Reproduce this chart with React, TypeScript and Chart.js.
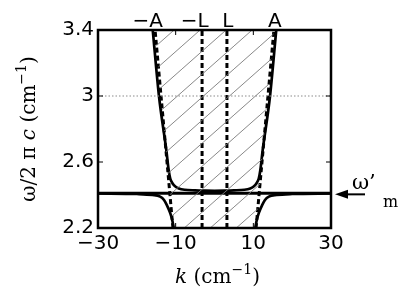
import React, { useEffect, useRef } from "react";
import { Chart, registerables } from "chart.js";
Chart.register(...registerables);

const X_TICKS = [-30, -10, 10, 30];
const Y_TICKS = [2.2, 2.6, 3, 3.4];
const X_MIN = -30;
const X_MAX = 30;
const Y_MIN = 2.2;
const Y_MAX = 3.4;
const OMEGA_M = 2.41;
const DOTTED_LEVEL = 3.0;

const UPPER_K = [-15.9, -14.3, -12.4, -11.8, -11.4, -10.8, -10.0, -9.2, -7.7, -5.0, -2.5, 0, 2.5, 5.0, 7.7, 9.2, 10.0, 10.8, 11.4, 11.8, 12.4, 14.3, 15.9];
const UPPER_W = [3.4, 3.0, 2.67, 2.55, 2.5, 2.47, 2.45, 2.44, 2.432, 2.428, 2.426, 2.425, 2.426, 2.428, 2.432, 2.44, 2.45, 2.47, 2.5, 2.55, 2.67, 3.0, 3.4];

const LOWER_LEFT_K = [-30, -20, -16, -14, -13, -12.3, -11.4, -10.9, -10.5];
const LOWER_LEFT_W = [2.409, 2.406, 2.4, 2.39, 2.37, 2.34, 2.29, 2.25, 2.2];
const LOWER_RIGHT_K = [10.5, 10.9, 11.4, 12.3, 13, 14, 16, 20, 30];
const LOWER_RIGHT_W = [2.2, 2.25, 2.29, 2.34, 2.37, 2.39, 2.4, 2.406, 2.409];

const A_LINE_K = [10.7, 15.3];
const A_LINE_W = [2.2, 3.4];
const L_K = 3.2;

const TOP_LABELS = ["\u2212A", "\u2212L", "L", "A"];
const TOP_LABEL_K = [-15.3, -3.2, 3.2, 15.3];

const SANS = "'DejaVu Sans', sans-serif";
const SERIF = "'DejaVu Serif', serif";

function pts(ks: number[], ws: number[]) {
  return ks.map((k, i) => ({ x: k, y: ws[i] }));
}

function makeHatch(): CanvasPattern | string {
  const W = 26;
  const H = 23;
  const c = document.createElement("canvas");
  c.width = W;
  c.height = H;
  const g = c.getContext("2d");
  if (!g) return "rgba(0,0,0,0)";
  g.strokeStyle = "#7a7a7a";
  g.lineWidth = 0.9;
  for (let s = -1; s <= 1; s++) {
    g.beginPath();
    g.moveTo(0 + s * W, H);
    g.lineTo(W + s * W, 0);
    g.stroke();
  }
  const p = g.createPattern(c, "repeat");
  return p || "#ccc";
}

const decorPlugin = {
  id: "decor",
  afterDatasetsDraw(chart: any) {
    const ctx = chart.ctx as CanvasRenderingContext2D;
    const a = chart.chartArea;
    const xs = chart.scales.x;
    const ys = chart.scales.y;
    ctx.save();
    // inward ticks
    ctx.strokeStyle = "#000";
    ctx.lineWidth = 1;
    const tl = 5;
    X_TICKS.forEach((v) => {
      const px = xs.getPixelForValue(v);
      ctx.beginPath();
      ctx.moveTo(px, a.bottom);
      ctx.lineTo(px, a.bottom - tl);
      ctx.moveTo(px, a.top);
      ctx.lineTo(px, a.top + tl);
      ctx.stroke();
    });
    Y_TICKS.forEach((v) => {
      const py = ys.getPixelForValue(v);
      ctx.beginPath();
      ctx.moveTo(a.left, py);
      ctx.lineTo(a.left + tl, py);
      ctx.moveTo(a.right, py);
      ctx.lineTo(a.right - tl, py);
      ctx.stroke();
    });
    // frame
    ctx.lineWidth = 2.5;
    ctx.strokeRect(a.left, a.top, a.right - a.left, a.bottom - a.top);

    // top labels
    ctx.fillStyle = "#000";
    ctx.font = `20px ${SANS}`;
    ctx.textBaseline = "alphabetic";
    ctx.textAlign = "right";
    TOP_LABELS.forEach((lab, i) => {
      const letter = lab.slice(-1);
      const w = ctx.measureText(letter).width;
      const px = xs.getPixelForValue(TOP_LABEL_K[i]);
      ctx.fillText(lab, px + w / 2 + 1, a.top - 3);
    });

    // rich text helper
    type Seg = { t: string; font: string; dy: number };
    const drawSegs = (segs: Seg[], cx: number, by: number) => {
      ctx.textAlign = "left";
      let total = 0;
      segs.forEach((s) => {
        ctx.font = s.font;
        total += ctx.measureText(s.t).width;
      });
      let x = cx - total / 2;
      segs.forEach((s) => {
        ctx.font = s.font;
        ctx.fillText(s.t, x, by + s.dy);
        x += ctx.measureText(s.t).width;
      });
    };

    // x title
    drawSegs(
      [
        { t: "k", font: `italic 20px ${SERIF}`, dy: 0 },
        { t: " (cm", font: `20px ${SERIF}`, dy: 0 },
        { t: "\u22121", font: `14px ${SERIF}`, dy: -9 },
        { t: ")", font: `20px ${SERIF}`, dy: 0 },
      ],
      (a.left + a.right) / 2 + 3,
      283
    );

    // y title
    ctx.save();
    ctx.translate(35, (a.top + a.bottom) / 2);
    ctx.rotate(-Math.PI / 2);
    drawSegs(
      [
        { t: "\u03c9/2 \u03c0 ", font: `20px ${SERIF}`, dy: 0 },
        { t: "c", font: `italic 20px ${SERIF}`, dy: 0 },
        { t: " (cm", font: `20px ${SERIF}`, dy: 0 },
        { t: "\u22121", font: `14px ${SERIF}`, dy: -9 },
        { t: ")", font: `20px ${SERIF}`, dy: 0 },
      ],
      0,
      0
    );
    ctx.restore();

    // arrow to omega'_m
    const yo = ys.getPixelForValue(OMEGA_M) + 1;
    const tip = a.right + 4;
    ctx.beginPath();
    ctx.moveTo(tip, yo);
    ctx.lineTo(tip + 13, yo - 4.5);
    ctx.lineTo(tip + 13, yo + 4.5);
    ctx.closePath();
    ctx.fill();
    ctx.lineWidth = 2;
    ctx.beginPath();
    ctx.moveTo(tip + 10, yo);
    ctx.lineTo(tip + 30, yo);
    ctx.stroke();
    ctx.textAlign = "left";
    ctx.font = `21px ${SERIF}`;
    ctx.fillText("\u03c9\u2019", a.right + 21, yo - 5);
    ctx.font = `16px ${SERIF}`;
    ctx.fillText("m", a.right + 52, yo + 13);
    ctx.restore();
  },
};

export default function App() {
  const ref = useRef<HTMLCanvasElement | null>(null);
  useEffect(() => {
    if (!ref.current) return;
    const hatch = makeHatch();
    const hatchPoly = [
      { x: -A_LINE_K[0], y: A_LINE_W[0] },
      { x: -A_LINE_K[1], y: A_LINE_W[1] },
      { x: A_LINE_K[1], y: A_LINE_W[1] },
      { x: A_LINE_K[0], y: A_LINE_W[0] },
      { x: -A_LINE_K[0], y: A_LINE_W[0] },
    ];
    const dashed = (data: any[]) => ({
      data,
      borderColor: "#000",
      borderWidth: 3,
      borderDash: [5, 3],
      pointRadius: 0,
      fill: false,
    });
    const solid = (data: any[], w: number) => ({
      data,
      borderColor: "#000",
      borderWidth: w,
      pointRadius: 0,
      fill: false,
      cubicInterpolationMode: "monotone" as const,
    });
    const chart = new Chart(ref.current, {
      type: "line",
      data: {
        datasets: [
          {
            data: hatchPoly,
            borderWidth: 0,
            borderColor: "rgba(0,0,0,0)",
            backgroundColor: hatch as any,
            pointRadius: 0,
            fill: "shape" as any,
          },
          {
            data: [
              { x: X_MIN, y: DOTTED_LEVEL },
              { x: X_MAX, y: DOTTED_LEVEL },
            ],
            borderColor: "#8c8c8c",
            borderWidth: 1.2,
            borderDash: [1.5, 2],
            pointRadius: 0,
            fill: false,
          },
          dashed([
            { x: -L_K, y: Y_MIN },
            { x: -L_K, y: Y_MAX },
          ]),
          dashed([
            { x: L_K, y: Y_MIN },
            { x: L_K, y: Y_MAX },
          ]),
          dashed(pts([-A_LINE_K[0], -A_LINE_K[1]], A_LINE_W)),
          dashed(pts(A_LINE_K, A_LINE_W)),
          solid(
            [
              { x: X_MIN, y: OMEGA_M },
              { x: X_MAX, y: OMEGA_M },
            ],
            3
          ),
          solid(pts(UPPER_K, UPPER_W), 2.7),
          solid(pts(LOWER_LEFT_K, LOWER_LEFT_W), 2.7),
          solid(pts(LOWER_RIGHT_K, LOWER_RIGHT_W), 2.7),
        ] as any,
      },
      options: {
        animation: false,
        responsive: false,
        devicePixelRatio: 1,
        layout: { padding: { top: 30, right: 72, left: 0, bottom: 0 } },
        plugins: {
          legend: { display: false },
          tooltip: { enabled: false },
        },
        scales: {
          x: {
            type: "linear",
            min: X_MIN,
            max: X_MAX,
            grid: { display: false, drawTicks: false },
            border: { display: false },
            afterBuildTicks: (s: any) => {
              s.ticks = X_TICKS.map((v) => ({ value: v }));
            },
            afterFit: (s: any) => {
              s.height = 61;
            },
            ticks: {
              color: "#000",
              font: { family: SANS, size: 20 },
              padding: 4,
              maxRotation: 0,
              autoSkip: false,
              callback: (v: any) => (v < 0 ? "\u2212" + Math.abs(v) : String(v)),
            },
          },
          y: {
            type: "linear",
            min: Y_MIN,
            max: Y_MAX,
            grid: { display: false, drawTicks: false },
            border: { display: false },
            afterBuildTicks: (s: any) => {
              s.ticks = Y_TICKS.map((v) => ({ value: v }));
            },
            afterFit: (s: any) => {
              s.width = 98;
            },
            ticks: {
              color: "#000",
              font: { family: SANS, size: 20 },
              padding: 4,
              autoSkip: false,
              callback: (v: any) => String(Math.round(v * 10) / 10),
            },
          },
        },
      },
      plugins: [decorPlugin],
    });
    return () => chart.destroy();
  }, []);
  return (
    <div style={{ position: "absolute", left: 0, top: 0, width: 403, height: 289, background: "#fff" }}>
      <canvas ref={ref} width={403} height={289} style={{ display: "block" }} />
    </div>
  );
}
